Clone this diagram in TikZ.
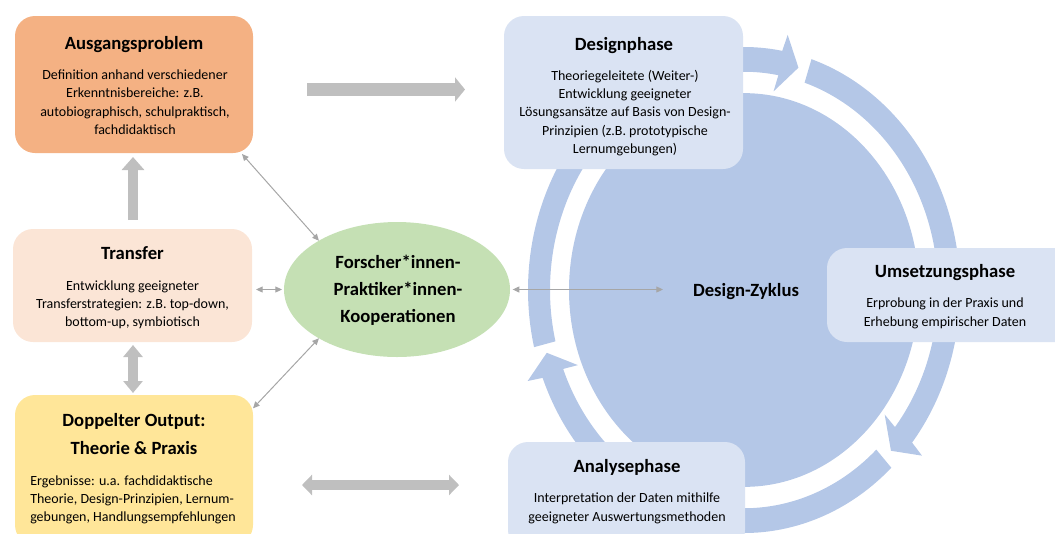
\documentclass[tikz,border=0pt]{standalone}
\usepackage{fontspec}
\setmainfont{Carlito}
\usetikzlibrary{arrows.meta,calc,shapes.geometric}
\definecolor{cAus}{HTML}{F4B183}
\definecolor{cTrans}{HTML}{FBE5D6}
\definecolor{cDop}{HTML}{FFE699}
\definecolor{cGreen}{HTML}{C5E0B4}
\definecolor{cPhase}{HTML}{DAE3F3}
\definecolor{cCyc}{HTML}{B4C7E7}
\definecolor{cBlock}{HTML}{BFBFBF}
\definecolor{cThin}{HTML}{A6A6A6}
\newcommand\ringseg[3]{\fill[cCyc] (#1:216) arc[start angle=#1, end angle=#2, radius=216] -- ({#2-0.7}:231) -- (#3:205) -- ({#2+0.7}:179) -- (#2:194) arc[start angle=#2, end angle=#1, radius=194] -- cycle;}
\begin{document}
\begin{tikzpicture}[x=0.75pt,y=-0.75pt,
  box/.style={rectangle, rounded corners=15pt, inner sep=0pt, outer sep=0pt, draw=none},
  ttl/.style={font=\fontsize{14}{19}\selectfont\bfseries, anchor=base, inner sep=0pt, align=center},
  bdy/.style={font=\fontsize{10.5}{13.7}\selectfont, align=center, anchor=base, inner sep=0pt},
  thinarr/.style={draw=cThin, line width=0.75pt, {Triangle[length=5pt,width=4.5pt]}-{Triangle[length=5pt,width=4.5pt]}},
  blockarr/.style={draw=cBlock}]
\useasboundingbox (0,0) rectangle (1055,533);
\clip (0,0) rectangle (1055,533);
% design cycle
\begin{scope}[shift={(744,290)}, yscale=-1.125]
  \fill[cCyc] (0,0) circle[radius=175];
  \ringseg{193.6}{79.8}{74.6}
  \ringseg{71.8}{-38.9}{-44.2}
  \ringseg{-47}{-158.8}{-164.2}
\end{scope}
% boxes
\node[box, fill=cAus, minimum width=178.5pt, minimum height=102.75pt] (aus) at (134,84.5) {};
\node[box, fill=cTrans, minimum width=179.25pt, minimum height=84.75pt] (trans) at (132.5,285.5) {};
\node[box, fill=cDop, minimum width=178.5pt, minimum height=112.5pt] (dop) at (134,470) {};
\node[ellipse, fill=cGreen, inner sep=0pt, outer sep=0pt, minimum width=169.5pt, minimum height=101.25pt] (forsch) at (397,289.5) {};
\node[box, fill=cPhase, minimum width=179.25pt, minimum height=114.75pt] (design) at (623.5,92.5) {};
\node[box, fill=cPhase, minimum width=189.75pt, minimum height=70.5pt] (ums) at (953.5,295) {};
\node[box, fill=cPhase, minimum width=177.75pt, minimum height=81pt] (ana) at (626.5,496) {};
% texts (multi-line nodes are placed by the baseline of their last line)
\node[ttl] (ausT) at (134,49.3) {Ausgangsproblem};
\node[bdy] (ausB) at (135,134.3) {Definition anhand verschiedener\\Erkenntnisbereiche: z.B.\\autobiographisch, schulpraktisch,\\fachdidaktisch};
\node[ttl] (transT) at (132.5,259.5) {Transfer};
\node[bdy] (transB) at (132.5,326.7) {Entwicklung geeigneter\\Transferstrategien: z.B. top-down,\\bottom-up, symbiotisch};
\node[ttl, font=\fontsize{14}{20.7}\selectfont\bfseries] (dopT) at (134,454.3) {Doppelter Output:\\Theorie \& Praxis};
\node[bdy, align=left, anchor=base west] (dopB) at (30,521.7) {Ergebnisse: u.a. fachdidaktische\\Theorie, Design-Prinzipien, Lernum-\\gebungen, Handlungsempfehlungen};
\node[ttl, font=\fontsize{14}{20.3}\selectfont\bfseries] (forschT) at (398,322.7) {Forscher*innen-\\Praktiker*innen-\\Kooperationen};
\node[ttl] (designT) at (624,50.3) {Designphase};
\node[bdy] (designB) at (625,153.5) {Theoriegeleitete (Weiter-)\\Entwicklung geeigneter\\Lösungsansätze auf Basis von Design-\\Prinzipien (z.B. prototypische\\Lernumgebungen)};
\node[ttl] (umsT) at (945,277) {Umsetzungsphase};
\node[bdy] (umsB) at (945,326) {Erprobung in der Praxis und\\Erhebung empirischer Daten};
\node[ttl] (anaT) at (627,472) {Analysephase};
\node[bdy] (anaB) at (627,521) {Interpretation der Daten mithilfe\\geeigneter Auswertungsmethoden};
\node[ttl] (dz) at (746,296) {Design-Zyklus};
% thin connectors
\coordinate (a1) at (242,154);
\coordinate (c1) at (253,408.3);
\coordinate (dzin) at (663,289.5);
\draw[thinarr] (a1) -- (forsch.148);
\draw[thinarr, shorten <=3pt, shorten >=1.5pt] (trans.east |- forsch.west) -- (forsch.west);
\draw[thinarr] (c1) -- (forsch.212);
\draw[thinarr, shorten <=2pt] (forsch.east) -- (dzin);
% block arrows
\coordinate (ta) at (307,89.5);
\coordinate (tb) at (465,89.5);
\coordinate (ua) at (133,220);
\coordinate (ub) at (133,157);
\coordinate (va) at (133,345);
\coordinate (vb) at (133,393);
\coordinate (ha) at (302,485);
\coordinate (hb) at (459,485);
\draw[blockarr, line width=9.75pt, -{Triangle[length=7.5pt,width=18pt]}] (ta) -- (tb);
\draw[blockarr, line width=7.5pt, -{Triangle[length=9.75pt,width=16.5pt]}] (ua) -- (ub);
\draw[blockarr, line width=7.5pt, {Triangle[length=9pt,width=14.25pt]}-{Triangle[length=9pt,width=14.25pt]}] (va) -- (vb);
\draw[blockarr, line width=7.5pt, {Triangle[length=7.5pt,width=15pt]}-{Triangle[length=7.5pt,width=15pt]}] (ha) -- (hb);
\end{tikzpicture}
\end{document}
